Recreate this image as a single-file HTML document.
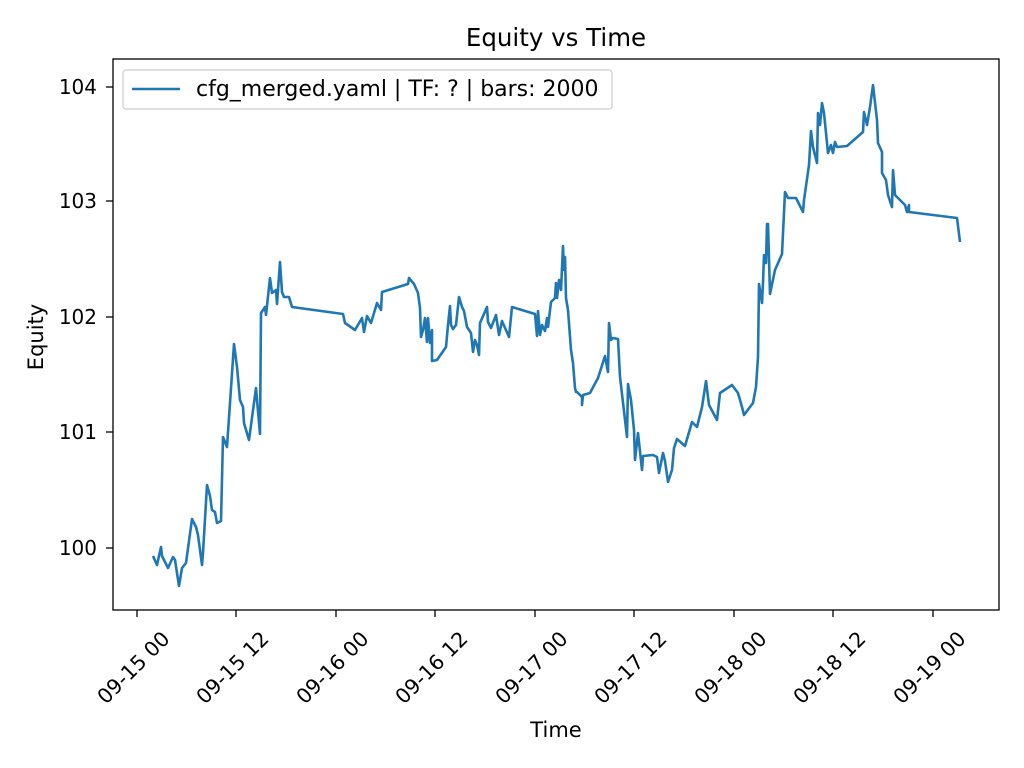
<!DOCTYPE html>
<html><head><meta charset="utf-8"><style>body{margin:0;background:#fff}svg{display:block}text{font-family:"DejaVu Sans","Liberation Sans",sans-serif;fill:#000}</style></head>
<body>
<svg width="1024" height="768" viewBox="0 0 1024 768" xmlns="http://www.w3.org/2000/svg">
<rect width="1024" height="768" fill="#fff"/>
<text x="556" y="46" font-size="24.5" text-anchor="middle">Equity vs Time</text>
<polyline fill="none" stroke="#1f77b4" stroke-width="2.6" stroke-linejoin="round" points="153,556 157,565 161,547 162,556 168,568 173,557 175,560 179,586 182,568 186,563 192,519 196,527 198,535 202,565 203,553 207,485 210,496 212,510 215,512 217,523 221,521 223,437 227,447 234,344 237,367 240,400 243,407 244,423 249,440 256,388 260,434 261,313 265,307 266,315 270,278 272,293 276,290 277,304 280,262 282,292 284,297 289,297 292,307 343,314 345,323 355,330 362,318 364,332 367,316 371,323 377,303 381,310 382,292 408,284 409,278 414,284 418,293 420,308 421,337 423,330 425,318 427,342 428,318 430,343 432,330 432,361 437,360 446,347 448,325 450,306 451,325 453,329 456,325 459,297 462,307 464,311 467,327 471,333 473,352 475,340 477,345 479,355 480,323 487,307 488,322 491,328 496,315 499,335 502,321 509,337 512,307 535,314 537,336 538,311 540,335 542,325 545,331 547,318 548,327 551,302 555,298 556,283 557,298 559,280 561,290 562,268 563,246 564,270 565,257 566,298 568,310 571,350 573,363 575,388 576,392 577,392 582,397 582,405 583,395 590,393 598,378 605,356 608,372 609,323 611,340 613,338 618,339 620,377 627,437 628,384 631,400 634,430 635,460 638,433 642,470 643,456 653,455 657,457 659,473 663,453 665,461 668,482 672,470 674,448 677,439 685,446 692,422 697,427 702,407 706,381 709,405 717,420 720,393 732,385 738,393 742,407 744,415 753,403 756,387 758,357 759,284 762,303 763,283 764,255 766,263 767,224 768,224 770,294 775,270 782,254 785,192 788,198 796,198 803,212 804,200 809,165 811,131 813,147 817,163 818,113 820,125 822,103 824,113 828,153 831,145 833,153 835,142 837,147 847,146 863,132 864,112 867,125 870,107 873,85 877,120 878,143 882,152 882,173 886,180 888,195 892,207 893,170 895,195 905,205 907,212 909,205 909,212 957,218 960,242"/>
<rect x="113" y="59" width="886" height="551" fill="none" stroke="#000" stroke-width="1.3"/>
<g stroke="#000" stroke-width="1.3">
<line x1="106" y1="87" x2="113" y2="87"/><line x1="106" y1="201" x2="113" y2="201"/><line x1="106" y1="317" x2="113" y2="317"/><line x1="106" y1="432" x2="113" y2="432"/><line x1="106" y1="548" x2="113" y2="548"/>
<line x1="137" y1="610" x2="137" y2="617"/><line x1="236" y1="610" x2="236" y2="617"/><line x1="336" y1="610" x2="336" y2="617"/><line x1="435" y1="610" x2="435" y2="617"/><line x1="535" y1="610" x2="535" y2="617"/><line x1="634" y1="610" x2="634" y2="617"/><line x1="734" y1="610" x2="734" y2="617"/><line x1="833" y1="610" x2="833" y2="617"/><line x1="933" y1="610" x2="933" y2="617"/>
</g>
<g font-size="20" text-anchor="end">
<text x="97" y="94">104</text><text x="97" y="208">103</text><text x="97" y="324">102</text><text x="97" y="439">101</text><text x="97" y="555">100</text>
</g>
<g font-size="20.5" text-anchor="end">
<text transform="translate(171,640) rotate(-45)">09-15 00</text>
<text transform="translate(270,640) rotate(-45)">09-15 12</text>
<text transform="translate(370,640) rotate(-45)">09-16 00</text>
<text transform="translate(469,640) rotate(-45)">09-16 12</text>
<text transform="translate(569,640) rotate(-45)">09-17 00</text>
<text transform="translate(668,640) rotate(-45)">09-17 12</text>
<text transform="translate(768,640) rotate(-45)">09-18 00</text>
<text transform="translate(867,640) rotate(-45)">09-18 12</text>
<text transform="translate(967,640) rotate(-45)">09-19 00</text>
</g>
<text x="556" y="737" font-size="21" text-anchor="middle">Time</text>
<text transform="translate(43,337) rotate(-90)" font-size="21" text-anchor="middle">Equity</text>
<rect x="123" y="70" width="489" height="39" rx="3" fill="#fff" stroke="#ccc" stroke-width="1.2"/>
<line x1="132" y1="89" x2="180" y2="89" stroke="#1f77b4" stroke-width="2.6"/>
<text x="196" y="96" font-size="22">cfg_merged.yaml | TF: ? | bars: 2000</text>
</svg>
</body></html>
